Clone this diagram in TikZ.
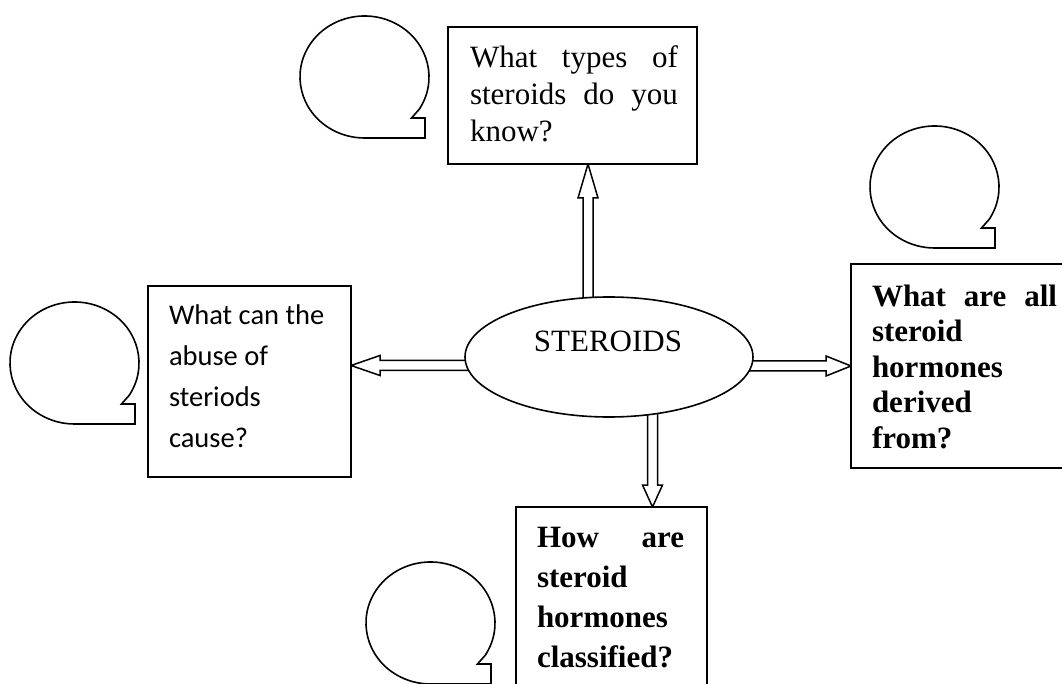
\documentclass[tikz,border=0pt]{standalone}
\usepackage{fontspec}
\setmainfont{Liberation Serif}
\newfontfamily\calibri{Carlito}
\usetikzlibrary{shapes.geometric,calc}
\pgfdeclarelayer{bg}
\pgfsetlayers{bg,main}
\newcommand\blkarrow[3]{%
  \coordinate (h-#1) at ($(#2)!#3!(#1)$);
  \draw[blk] ($(#1)!5pt!90:(#2)$) -- ($(h-#1)!5pt!90:(#2)$) -- ($(h-#1)!10pt!90:(#2)$) -- (#2)
    -- ($(h-#1)!10pt!-90:(#2)$) -- ($(h-#1)!5pt!-90:(#2)$) -- ($(#1)!5pt!-90:(#2)$) -- cycle;}
\begin{document}
\begin{tikzpicture}[x=1pt,y=1pt,
  line width=1.6pt,
  box/.style={draw, rectangle, inner sep=0pt, outer sep=0pt, fill=white},
  txt/.style={anchor=base west, inner sep=0pt, outer sep=0pt},
  blk/.style={draw, fill=white, line width=1.5pt, line join=miter},
  bubble/.pic={\draw (47,-41) -- (-32:64.5pt and 61pt)
     arc[start angle=-32, end angle=270, x radius=64.5pt, y radius=61pt]
     -- (60.5,-61) -- (60.5,-41) -- cycle;}]
\useasboundingbox (0,0) rectangle (1062,683);
\clip (0,0) rectangle (1062,683);

% boxes
\node[box, minimum width=249, minimum height=137] (topq) at (572.5,587.5) {};
\node[box, minimum width=203, minimum height=191] (leftq) at (249.5,301.5) {};
\node[box, minimum width=229, minimum height=204] (rightq) at (965.5,317) {};
\node[box, minimum width=191, minimum height=196] (botq) at (611.5,78) {};

% centre
\node[draw, fill=white, ellipse, inner sep=0pt, outer sep=0pt, minimum width=288, minimum height=120] (ell) at (609,326) {};
\node[anchor=base, inner sep=0pt, font=\fontsize{31}{37}\selectfont] (stl) at (608,331) {STEROIDS};

% texts
\node[txt] (topt) at (470,615) {\parbox[t]{208pt}{\fontsize{31}{37}\selectfont What types of\linebreak steroids do you\linebreak know?}};
\node[txt] (rightt) at (872,376.5) {\parbox[t]{185pt}{\fontsize{31}{35.5}\selectfont\bfseries What are all\linebreak steroid\newline hormones\newline derived\newline from?}};
\node[txt] (bott) at (537,136) {\parbox[t]{147pt}{\fontsize{31}{40.3}\selectfont\bfseries How are\linebreak steroid\newline hormones\newline classified?}};
\node[txt] (leftt) at (169,358) {\parbox[t]{175pt}{\calibri\fontsize{28.5}{41}\selectfont\raggedright What can the\\ abuse of\\ steriods\\ cause?}};

% bubbles
\pic (bt) at (364.5,606) {bubble};
\pic (bl) at (74.5,320) {bubble};
\pic (br) at (934.5,496) {bubble};
\pic (bb) at (430.5,60) {bubble};

% arrows
\coordinate (ua) at (588,326); \coordinate (ub) at (topq.south -| ua);
\coordinate (da) at (652.5,326); \coordinate (db) at (botq.north -| da);
\coordinate (la) at (609,317.5); \coordinate (lb) at (leftq.east |- la);
\coordinate (ra) at (609,317); \coordinate (rb) at (rightq.west |- ra);
\begin{pgfonlayer}{bg}
\blkarrow{ua}{ub}{34pt}
\blkarrow{da}{db}{22pt}
\blkarrow{la}{lb}{29pt}
\blkarrow{ra}{rb}{25pt}
\end{pgfonlayer}
\end{tikzpicture}
\end{document}
